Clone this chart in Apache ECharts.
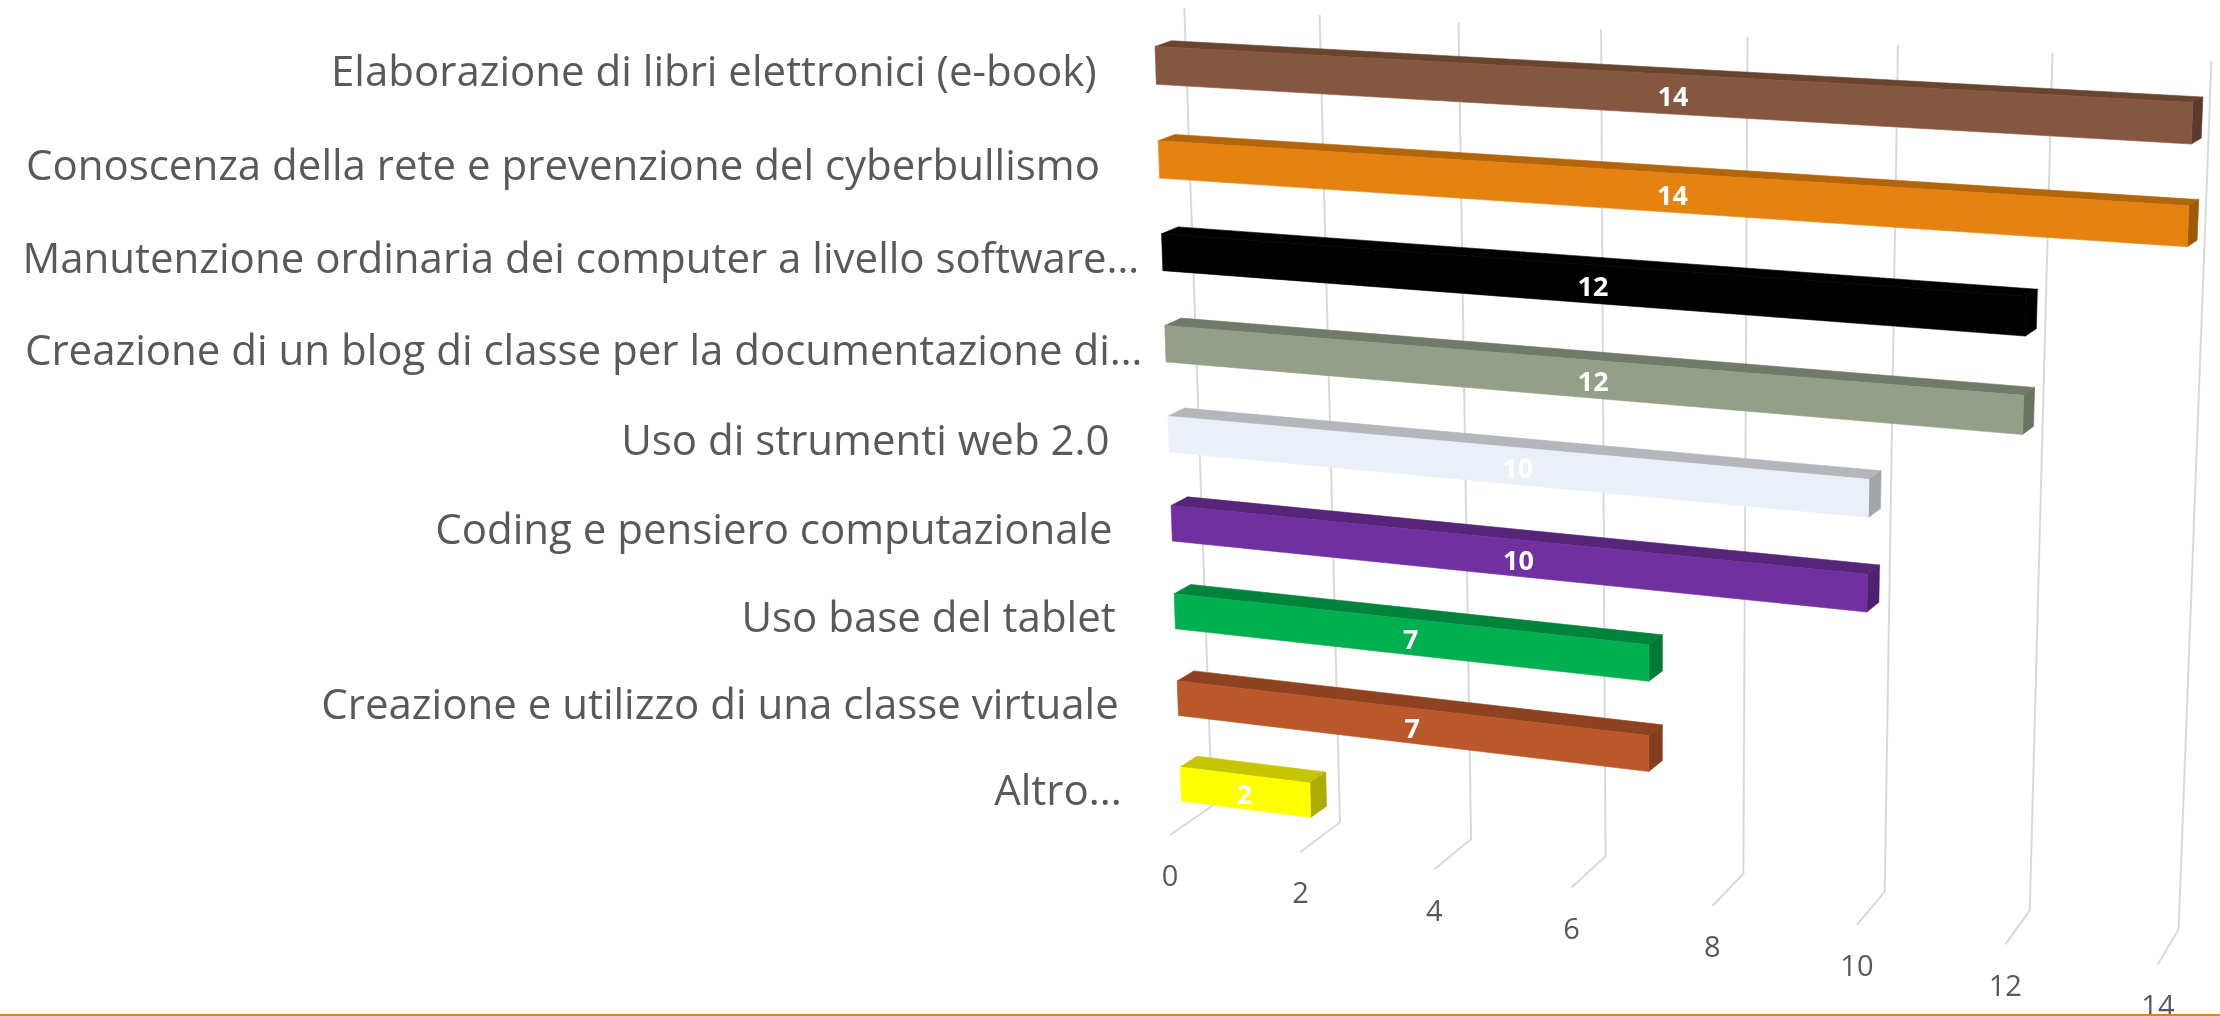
<!DOCTYPE html>
<html><head><meta charset="utf-8">
<style>html,body{margin:0;padding:0;background:#fff}#c{width:2220px;height:1016px}</style>
<script src="https://cdn.jsdelivr.net/npm/echarts@6/dist/echarts.min.js"></script>
</head><body><div id="c"></div>
<script>
const categories = [
  "Elaborazione di libri elettronici (e-book)",
  "Conoscenza della rete e prevenzione del cyberbullismo",
  "Manutenzione ordinaria dei computer a livello software…",
  "Creazione di un blog di classe per la documentazione di…",
  "Uso di strumenti web 2.0",
  "Coding e pensiero computazionale",
  "Uso base del tablet",
  "Creazione e utilizzo di una classe virtuale",
  "Altro..."
];
const values = [14, 14, 12, 12, 10, 10, 7, 7, 2];
const faceColors = ["#855740","#E68310","#000000","#949F87","#E9F0F8","#7030A0","#00B050","#BA582B","#FFFF00"];
const topColors  = ["#69442F","#B3650B","#000000","#6F7A67","#B3B7BB","#562479","#00843C","#8F4220","#C6C600"];
const sideColors = ["#5A3A2A","#9E5A09","#000000","#6A7360","#A1A5A8","#4E2170","#007A37","#843D1E","#ABAB00"];
const valueTicks = [0, 2, 4, 6, 8, 10, 12, 14];

// flat (hidden) cartesian grid; perspective maps its pixels onto the page
const G = {left: 0, top: 0, width: 1400, height: 900};
const BAR_FRAC = 0.4;

function quad(p) { // unit square -> quad (p00, p10, p01, p11)
  const [[x0,y0],[x1,y1],[x3,y3],[x2,y2]] = p;
  const dx1=x1-x2, dx2=x3-x2, sx=x0-x1+x2-x3, dy1=y1-y2, dy2=y3-y2, sy=y0-y1+y2-y3;
  const d=dx1*dy2-dx2*dy1, g=(sx*dy2-dx2*sy)/d, h=(dx1*sy-sx*dy1)/d;
  const a=x1-x0+g*x1, b=x3-x0+h*x3, c=x0, e=y1-y0+g*y1, f=y3-y0+h*y3, k=y0;
  return (u,v)=>{const w=g*u+h*v+1; return [(a*u+b*v+c)/w,(e*u+f*v+k)/w];};
}
// perspective planes
const frontPlane = quad([[1155,46.5],[2192.9,102.5],[1181.4,801],[2161,926]]);
const backPlane  = quad([[1171.4,40.7],[2202.9,97],[1198,790],[2170,913]]);
const wallPlane  = quad([[1184.3,8],[2211.4,61],[1212,806],[2178.6,929.3]]);
const floorPlane = quad([[1212,806],[2178.6,929.3],[1170,835],[2157.9,964.3]]);

const nu = px => (px - G.left) / G.width;
const band = G.height / categories.length;
const yTop0 = G.top + band * (0.5 - BAR_FRAC / 2);
const ySpan = band * (categories.length - 1 + BAR_FRAC);
const nv = py => (py - yTop0) / ySpan;
const TEXT = "#595959", FONT = "'Open Sans'";

function renderTicks(params, api) {
  const v = api.value(0);
  const u = nu(api.coord([v, categories[0]])[0]);
  const a = wallPlane(u, 0), b = wallPlane(u, 1), c = floorPlane(u, 1);
  return {type: "group", children: [
    {type: "polyline", shape: {points: [a, b, c]}, style: {fill: null, stroke: "#D9D9D9", lineWidth: 2}},
    {type: "text", style: {text: String(v), x: c[0], y: c[1] + 43, align: "center", verticalAlign: "middle",
      fill: TEXT, font: `29px ${FONT}`}}
  ]};
}
function face(points, color) {
  return {type: "polygon", shape: {points}, style: {fill: color, stroke: color, lineWidth: 0.6}};
}
function renderBars(params, api) {
  const i = params.dataIndex, v = api.value(0);
  const c0 = api.coord([0, categories[i]]), c1 = api.coord([v, categories[i]]);
  const h = api.size([0, 1])[1] * BAR_FRAC / 2;
  const u0 = nu(c0[0]), u1 = nu(c1[0]), t = nv(c0[1] - h), b = nv(c0[1] + h);
  const F = frontPlane, B = backPlane;
  const ftl = F(u0,t), ftr = F(u1,t), fbl = F(u0,b), fbr = F(u1,b), btl = B(u0,t), btr = B(u1,t), bbr = B(u1,b);
  const lx = (ftl[0]+ftr[0]+fbl[0]+fbr[0])/4 - 1, ly = (ftl[1]+ftr[1]+fbl[1]+fbr[1])/4 + 4;
  return {type: "group", children: [
    face([ftl, ftr, btr, btl], topColors[i]),
    face([ftr, fbr, bbr, btr], sideColors[i]),
    face([ftl, ftr, fbr, fbl], faceColors[i]),
    {type: "text", z2: 5, style: {text: String(v), x: lx, y: ly, align: "center", verticalAlign: "middle",
      fill: "#FFFFFF", font: `bold 27px ${FONT}`}}
  ]};
}
function renderLabels(params, api) {
  const i = params.dataIndex;
  const c = api.coord([0, categories[i]]);
  const h = api.size([0, 1])[1] * BAR_FRAC / 2;
  const tl = frontPlane(nu(c[0]), nv(c[1] - h)), bl = frontPlane(nu(c[0]), nv(c[1] + h));
  const name = categories[i];
  const gap = name.endsWith("…") ? 23 : 59;
  return {type: "text", style: {text: name, x: (tl[0]+bl[0])/2 - gap, y: (tl[1]+bl[1])/2 + 9,
    align: "right", verticalAlign: "middle", fill: TEXT, font: `42px ${FONT}`}};
}

const chart = echarts.init(document.getElementById("c"), null, {renderer: "canvas"});
chart.setOption({
  animation: false,
  backgroundColor: "#FFFFFF",
  grid: {left: G.left, top: G.top, width: G.width, height: G.height, show: false},
  xAxis: {type: "value", min: 0, max: 14, interval: 2, show: false},
  yAxis: {type: "category", data: categories, inverse: true, show: false},
  series: [
    {type: "custom", clip: false, z: 1, data: valueTicks.map(v => [v]), encode: {x: 0}, renderItem: renderTicks, silent: true},
    {type: "custom", clip: false, z: 2, data: values.map((v, i) => [v, categories[i]]), encode: {x: 0, y: 1}, renderItem: renderBars, silent: true},
    {type: "custom", clip: false, z: 3, data: values.map((v, i) => [0, categories[i]]), encode: {x: 0, y: 1}, renderItem: renderLabels, silent: true}
  ],
  graphic: [{type: "rect", z: 100, shape: {x: 0, y: 1014, width: 2220, height: 2}, style: {fill: "#E48312"}}]
});
</script></body></html>
